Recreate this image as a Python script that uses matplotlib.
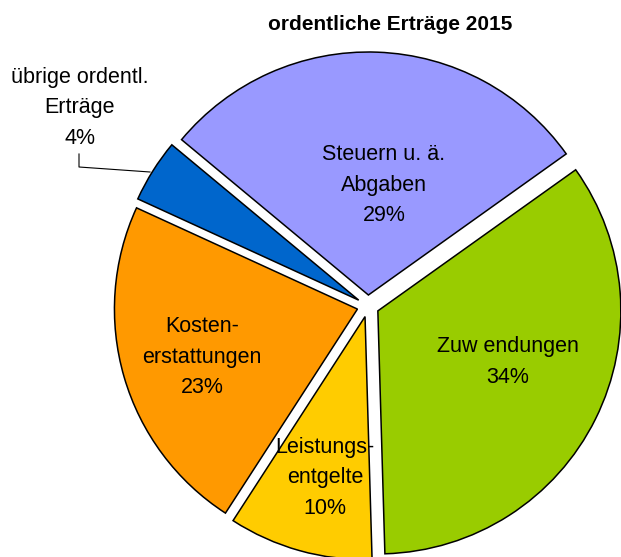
import matplotlib

matplotlib.use("Agg")
import matplotlib.pyplot as plt

# slices in clockwise order starting at the upper right
names = ["Zuw endungen", "Leistungs-\nentgelte", "Kosten-\nerstattungen", "übrige ordentl.\nErträge", "Steuern u. ä.\nAbgaben"]
shares = [34.4, 9.6, 22.7, 4.2, 29.1]
colors = ["#99CC00", "#FFCC00", "#FF9900", "#0066CC", "#9999FF"]
title = "ordentliche Erträge 2015"

W, H = 621, 557
plt.rcParams["font.family"] = ["Liberation Sans", "DejaVu Sans"]

fig = plt.figure(figsize=(W / 100, H / 100), dpi=100)
ax = fig.add_axes([0, 0, 1, 1])

radius = 243
center = (368, H - 306)
wedges, _ = ax.pie(
    shares,
    colors=colors,
    startangle=35.5,
    counterclock=False,
    radius=radius,
    center=center,
    explode=[11] * len(shares),
    wedgeprops={"edgecolor": "black", "linewidth": 1.1},
    frame=True,
)
ax.set_xlim(0, W)
ax.set_ylim(0, H)
ax.set_aspect("equal")
ax.axis("off")

# label anchors in image pixels (x, y from top)
label_pos = [(508, 362), (325, 478), (202, 357), (80, 108), (384, 185)]
for name, share, (lx, ly) in zip(names, shares, label_pos):
    ax.text(lx, H - ly, f"{name}\n{share:.0f}%", ha="center", va="center",
            fontsize=15.5, linespacing=1.6, multialignment="center")

# leader line for the small slice
ax.plot([79, 79, 150], [H - 154, H - 167, H - 172], color="black", linewidth=0.8)

ax.text(390, H - 25, title, ha="center", va="center", fontsize=15, fontweight="bold")

fig.savefig("out.png", dpi=100)
